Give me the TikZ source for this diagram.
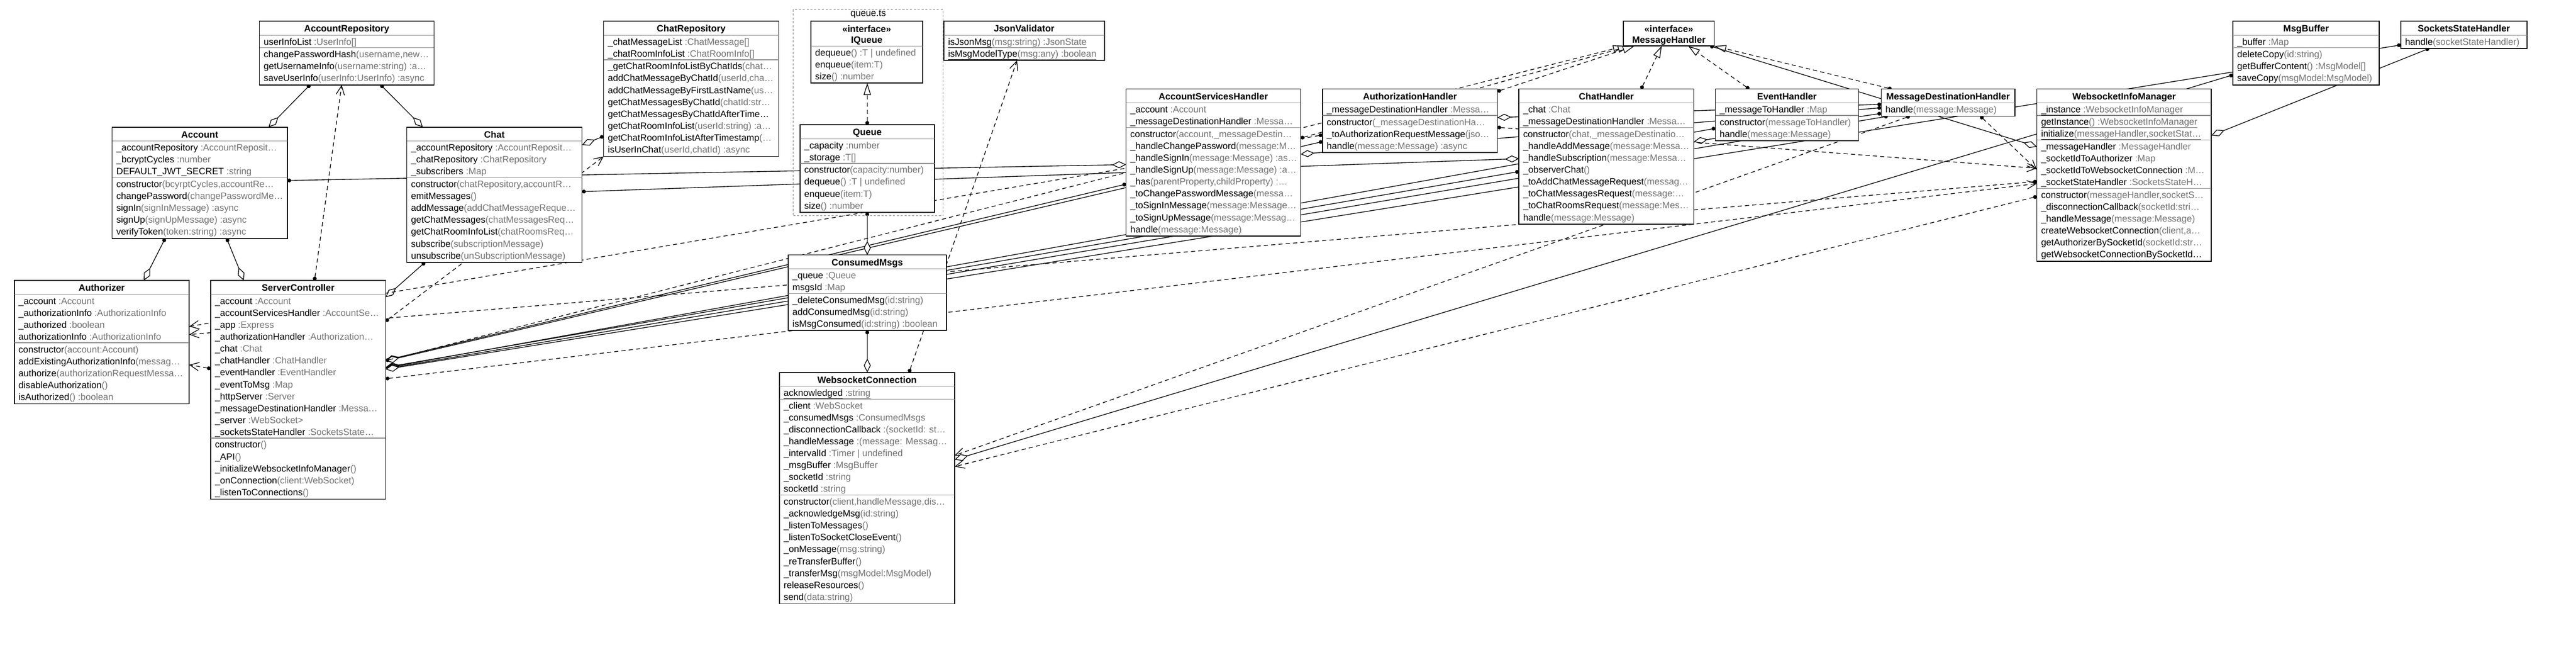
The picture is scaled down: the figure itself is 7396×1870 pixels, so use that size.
\documentclass[tikz,border=0pt]{standalone}
\usepackage{fontspec}
\setmainfont{Liberation Sans}
\usetikzlibrary{arrows.meta,calc}
\pgfdeclarelayer{bg}
\pgfsetlayers{bg,main}
\colorlet{tgray}{black!55}
\newcommand\tyc[1]{\textcolor{tgray}{#1}}
\newcommand\stc[1]{\underline{\vphantom{()}#1}}
\newcommand\classpart[4]{%
  \foreach \txt [count=\k] in {#4}
    {\node[memb] (#1-#2\k) at ($(#1.north west)+(12,#3+\k*34.2-6.2)$) {\txt};}}
\newcommand\partline[2]{\draw[partsep] ($(#1.north west)+(0,#2)$) -- ($(#1.north east)+(0,#2)$);}
\tikzset{
  cls/.style={draw, line width=2.4pt, fill=white, anchor=north west, inner sep=0pt, outer sep=0pt},
  ttl/.style={font=\bfseries\fontsize{26.5}{30}\selectfont, anchor=base, inner sep=0pt},
  memb/.style={font=\fontsize{26.5}{30}\selectfont, anchor=base west, inner sep=0pt},
  partsep/.style={draw=black!45, line width=2pt},
  pkg/.style={draw=black!50, line width=1.5pt, dash pattern=on 6pt off 5pt, anchor=north west, inner sep=0pt},
  conn/.style={line width=2pt},
  agg/.style={conn, {Circle[length=11pt]}-{Diamond[length=40pt,width=20pt,fill=white]}},
  dep/.style={conn, dash pattern=on 12pt off 9pt, {Circle[length=11pt]}-{Straight Barb[length=26pt,width=24pt]}},
  real/.style={conn, dash pattern=on 12pt off 9pt, {Circle[length=11pt]}-{Triangle[length=34pt,width=21pt,fill=white]}}
}
\begin{document}
\begin{tikzpicture}[x=1pt,y=-1pt]
\useasboundingbox (0,0) rectangle (7396,1870);

\node[cls, minimum width=501, minimum height=182.8] (arepo) at (745,61) {};
\node[ttl] (arepo-t) at ($(arepo.north)+(0,30.5)$) {AccountRepository};
\partline{arepo}{40} \partline{arepo}{76.2}
\classpart{arepo}{a}{40}{{userInfoList \tyc{:UserInfo[]}}}
\classpart{arepo}{m}{76.2}{{changePasswordHash\tyc{(username,new…}},{getUsernameInfo\tyc{(username:string) :a…}},{saveUserInfo\tyc{(userInfo:UserInfo) :async}}}

\node[cls, minimum width=503, minimum height=319.6] (acct) at (322,365) {};
\node[ttl] (acct-t) at ($(acct.north)+(0,30.5)$) {Account};
\partline{acct}{40} \partline{acct}{144.6}
\classpart{acct}{a}{40}{{\_accountRepository \tyc{:AccountReposit…}},{\_bcryptCycles \tyc{:number}},{DEFAULT\_JWT\_SECRET \tyc{:string}}}
\classpart{acct}{m}{144.6}{{constructor\tyc{(bcyrptCycles,accountRe…}},{changePassword\tyc{(changePasswordMe…}},{signIn\tyc{(signInMessage) :async}},{signUp\tyc{(signUpMessage) :async}},{verifyToken\tyc{(token:string) :async}}}

\node[cls, minimum width=503, minimum height=388] (chat) at (1168,365) {};
\node[ttl] (chat-t) at ($(chat.north)+(0,30.5)$) {Chat};
\partline{chat}{40} \partline{chat}{144.6}
\classpart{chat}{a}{40}{{\_accountRepository \tyc{:AccountReposit…}},{\_chatRepository \tyc{:ChatRepository}},{\_subscribers \tyc{:Map}}}
\classpart{chat}{m}{144.6}{{constructor\tyc{(chatRepository,accountR…}},{emitMessages\tyc{()}},{addMessage\tyc{(addChatMessageReque…}},{getChatMessages\tyc{(chatMessagesReq…}},{getChatRoomInfoList\tyc{(chatRoomsReq…}},{subscribe\tyc{(subscriptionMessage)}},{unsubscribe\tyc{(unSubscriptionMessage)}}}

\node[cls, minimum width=503, minimum height=388] (crepo) at (1733,61) {};
\node[ttl] (crepo-t) at ($(crepo.north)+(0,30.5)$) {ChatRepository};
\partline{crepo}{40} \partline{crepo}{110.4}
\classpart{crepo}{a}{40}{{\_chatMessageList \tyc{:ChatMessage[]}},{\_chatRoomInfoList \tyc{:ChatRoomInfo[]}}}
\classpart{crepo}{m}{110.4}{{\_getChatRoomInfoListByChatIds\tyc{(chat…}},{addChatMessageByChatId\tyc{(userId,cha…}},{addChatMessageByFirstLastName\tyc{(us…}},{getChatMessagesByChatId\tyc{(chatId:str…}},{getChatMessagesByChatIdAfterTime…},{getChatRoomInfoList\tyc{(userId:string) :a…}},{getChatRoomInfoListAfterTimestamp\tyc{(…}},{isUserInChat\tyc{(userId,chatId) :async}}}

\node[cls, minimum width=502, minimum height=353.8] (authz) at (41,805) {};
\node[ttl] (authz-t) at ($(authz.north)+(0,30.5)$) {Authorizer};
\partline{authz}{40} \partline{authz}{178.8}
\classpart{authz}{a}{40}{{\_account \tyc{:Account}},{\_authorizationInfo \tyc{:AuthorizationInfo}},{\_authorized \tyc{:boolean}},{authorizationInfo \tyc{:AuthorizationInfo}}}
\classpart{authz}{m}{178.8}{{constructor\tyc{(account:Account)}},{addExistingAuthorizationInfo\tyc{(messag…}},{authorize\tyc{(authorizationRequestMessa…}},{disableAuthorization\tyc{()}},{isAuthorized\tyc{() :boolean}}}

\node[cls, minimum width=502, minimum height=627.4] (srv) at (605,805) {};
\node[ttl] (srv-t) at ($(srv.north)+(0,30.5)$) {ServerController};
\partline{srv}{40} \partline{srv}{452.4}
\classpart{srv}{a}{40}{{\_account \tyc{:Account}},{\_accountServicesHandler \tyc{:AccountSe…}},{\_app \tyc{:Express}},{\_authorizationHandler \tyc{:Authorization…}},{\_chat \tyc{:Chat}},{\_chatHandler \tyc{:ChatHandler}},{\_eventHandler \tyc{:EventHandler}},{\_eventToMsg \tyc{:Map}},{\_httpServer \tyc{:Server}},{\_messageDestinationHandler \tyc{:Messa…}},{\_server \tyc{:WebSocket>}},{\_socketsStateHandler \tyc{:SocketsState…}}}
\classpart{srv}{m}{452.4}{{constructor\tyc{()}},{\_API\tyc{()}},{\_initializeWebsocketInfoManager\tyc{()}},{\_onConnection\tyc{(client:WebSocket)}},{\_listenToConnections\tyc{()}}}

\node[pkg, minimum width=430, minimum height=592] (qpkg) at (2277,27) {};
\node[memb, anchor=base] (qpkg-l) at ($(qpkg.north)+(0,20)$) {queue.ts};

\node[cls, minimum width=321, minimum height=177.6] (iqueue) at (2328,61) {};
\node[ttl] (iqueue-s) at ($(iqueue.north)+(0,31)$) {«interface»};
\node[ttl] (iqueue-t) at ($(iqueue.north)+(0,62)$) {IQueue};
\partline{iqueue}{71}
\classpart{iqueue}{m}{71}{{dequeue\tyc{() :T | undefined}},{enqueue\tyc{(item:T)}},{size\tyc{() :number}}}

\node[cls, minimum width=386, minimum height=251.2] (queue) at (2297,358.4) {};
\node[ttl] (queue-t) at ($(queue.north)+(0,30.5)$) {Queue};
\partline{queue}{40} \partline{queue}{110.4}
\classpart{queue}{a}{40}{{\_capacity \tyc{:number}},{\_storage \tyc{:T[]}}}
\classpart{queue}{m}{110.4}{{constructor\tyc{(capacity:number)}},{dequeue\tyc{() :T | undefined}},{enqueue\tyc{(item:T)}},{size\tyc{() :number}}}

\node[cls, minimum width=461, minimum height=112.4] (jsonv) at (2710,61) {};
\node[ttl] (jsonv-t) at ($(jsonv.north)+(0,30.5)$) {JsonValidator};
\partline{jsonv}{40}
\classpart{jsonv}{m}{40}{{\stc{isJsonMsg}\tyc{\stc{(msg:string) :JsonState}}},{\stc{isMsgModelType}\tyc{\stc{(msg:any) :boolean}}}}

\node[cls, minimum width=454, minimum height=217] (cmsgs) at (2263,731.6) {};
\node[ttl] (cmsgs-t) at ($(cmsgs.north)+(0,30.5)$) {ConsumedMsgs};
\partline{cmsgs}{40} \partline{cmsgs}{110.4}
\classpart{cmsgs}{a}{40}{{\_queue \tyc{:Queue}},{msgsId \tyc{:Map}}}
\classpart{cmsgs}{m}{110.4}{{\_deleteConsumedMsg\tyc{(id:string)}},{addConsumedMsg\tyc{(id:string)}},{isMsgConsumed\tyc{(id:string) :boolean}}}

\node[cls, minimum width=503, minimum height=663.6] (wsc) at (2238,1069) {};
\node[ttl] (wsc-t) at ($(wsc.north)+(0,30.5)$) {WebsocketConnection};
\partline{wsc}{40} \partline{wsc}{76.2} \partline{wsc}{351.8}
\classpart{wsc}{s}{40}{{\stc{acknowledged}\tyc{\stc{ :string}}}}
\classpart{wsc}{a}{76.2}{{\_client \tyc{:WebSocket}},{\_consumedMsgs \tyc{:ConsumedMsgs}},{\_disconnectionCallback \tyc{:(socketId: st…}},{\_handleMessage \tyc{:(message: Messag…}},{\_intervalId \tyc{:Timer | undefined}},{\_msgBuffer \tyc{:MsgBuffer}},{\_socketId \tyc{:string}},{socketId \tyc{:string}}}
\classpart{wsc}{m}{351.8}{{constructor\tyc{(client,handleMessage,dis…}},{\_acknowledgeMsg\tyc{(id:string)}},{\_listenToMessages\tyc{()}},{\_listenToSocketCloseEvent\tyc{()}},{\_onMessage\tyc{(msg:string)}},{\_reTransferBuffer\tyc{()}},{\_transferMsg\tyc{(msgModel:MsgModel)}},{releaseResources\tyc{()}},{send\tyc{(data:string)}}}

\node[cls, minimum width=501, minimum height=422.2] (ash) at (3233,255.4) {};
\node[ttl] (ash-t) at ($(ash.north)+(0,30.5)$) {AccountServicesHandler};
\partline{ash}{40} \partline{ash}{110.4}
\classpart{ash}{a}{40}{{\_account \tyc{:Account}},{\_messageDestinationHandler \tyc{:Messa…}}}
\classpart{ash}{m}{110.4}{{constructor\tyc{(account,\_messageDestin…}},{\_handleChangePassword\tyc{(message:M…}},{\_handleSignIn\tyc{(message:Message) :as…}},{\_handleSignUp\tyc{(message:Message) :a…}},{\_has\tyc{(parentProperty,childProperty) :…}},{\_toChangePasswordMessage\tyc{(messa…}},{\_toSignInMessage\tyc{(message:Message…}},{\_toSignUpMessage\tyc{(message:Messag…}},{handle\tyc{(message:Message)}}}

\node[cls, minimum width=502, minimum height=182.8] (authh) at (3797,255.4) {};
\node[ttl] (authh-t) at ($(authh.north)+(0,30.5)$) {AuthorizationHandler};
\partline{authh}{40} \partline{authh}{76.2}
\classpart{authh}{a}{40}{{\_messageDestinationHandler \tyc{:Messa…}}}
\classpart{authh}{m}{76.2}{{constructor\tyc{(\_messageDestinationHa…}},{\_toAuthorizationRequestMessage\tyc{(jso…}},{handle\tyc{(message:Message) :async}}}

\node[cls, minimum width=261, minimum height=71] (msgh) at (4661,61) {};
\node[ttl] (msgh-s) at ($(msgh.north)+(0,31)$) {«interface»};
\node[ttl] (msgh-t) at ($(msgh.north)+(0,62)$) {MessageHandler};

\node[cls, minimum width=502, minimum height=388] (chath) at (4361,255.4) {};
\node[ttl] (chath-t) at ($(chath.north)+(0,30.5)$) {ChatHandler};
\partline{chath}{40} \partline{chath}{110.4}
\classpart{chath}{a}{40}{{\_chat \tyc{:Chat}},{\_messageDestinationHandler \tyc{:Messa…}}}
\classpart{chath}{m}{110.4}{{constructor\tyc{(chat,\_messageDestinatio…}},{\_handleAddMessage\tyc{(message:Messa…}},{\_handleSubscription\tyc{(message:Messa…}},{\_observerChat\tyc{()}},{\_toAddChatMessageRequest\tyc{(messag…}},{\_toChatMessagesRequest\tyc{(message:…}},{\_toChatRoomsRequest\tyc{(message:Mes…}},{handle\tyc{(message:Message)}}}

\node[cls, minimum width=411, minimum height=148.6] (evh) at (4925,255.4) {};
\node[ttl] (evh-t) at ($(evh.north)+(0,30.5)$) {EventHandler};
\partline{evh}{40} \partline{evh}{76.2}
\classpart{evh}{a}{40}{{\_messageToHandler \tyc{:Map}}}
\classpart{evh}{m}{76.2}{{constructor\tyc{(messageToHandler)}},{handle\tyc{(message:Message)}}}

\node[cls, minimum width=384, minimum height=78.2] (mdh) at (5401,255.4) {};
\node[ttl] (mdh-t) at ($(mdh.north)+(0,30.5)$) {MessageDestinationHandler};
\partline{mdh}{40}
\classpart{mdh}{m}{40}{{handle\tyc{(message:Message)}}}

\node[cls, minimum width=501, minimum height=494.6] (wim) at (5848,255) {};
\node[ttl] (wim-t) at ($(wim.north)+(0,30.5)$) {WebsocketInfoManager};
\partline{wim}{40} \partline{wim}{76.2} \partline{wim}{146.6} \partline{wim}{285.4}
\classpart{wim}{s}{40}{{\stc{\_instance}\tyc{\stc{ :WebsocketInfoManager}}}}
\classpart{wim}{t}{76.2}{{\stc{getInstance}\tyc{\stc{() :WebsocketInfoManager}}},{\stc{initialize}\tyc{\stc{(messageHandler,socketStat…}}}}
\classpart{wim}{a}{146.6}{{\_messageHandler \tyc{:MessageHandler}},{\_socketIdToAuthorizer \tyc{:Map}},{\_socketIdToWebsocketConnection \tyc{:M…}},{\_socketStateHandler \tyc{:SocketsStateH…}}}
\classpart{wim}{m}{285.4}{{constructor\tyc{(messageHandler,socketS…}},{\_disconnectionCallback\tyc{(socketId:stri…}},{\_handleMessage\tyc{(message:Message)}},{createWebsocketConnection\tyc{(client,a…}},{getAuthorizerBySocketId\tyc{(socketId:str…}},{getWebsocketConnectionBySocketId…}}

\node[cls, minimum width=420, minimum height=182.8] (mbuf) at (6411,61) {};
\node[ttl] (mbuf-t) at ($(mbuf.north)+(0,30.5)$) {MsgBuffer};
\partline{mbuf}{40} \partline{mbuf}{76.2}
\classpart{mbuf}{a}{40}{{\_buffer \tyc{:Map}}}
\classpart{mbuf}{m}{76.2}{{deleteCopy\tyc{(id:string)}},{getBufferContent\tyc{() :MsgModel[]}},{saveCopy\tyc{(msgModel:MsgModel)}}}

\node[cls, minimum width=362, minimum height=78.2] (ssh) at (6893,61) {};
\node[ttl] (ssh-t) at ($(ssh.north)+(0,30.5)$) {SocketsStateHandler};
\partline{ssh}{40}
\classpart{ssh}{m}{40}{{handle\tyc{(socketStateHandler)}}}

\begin{pgfonlayer}{bg}
\draw[agg] ($(arepo.south west)+(145,0)$) -- ($(acct.north west)+(449,0)$);
\draw[agg] ($(arepo.south west)+(348,0)$) -- ($(chat.north west)+(46,0)$);
\draw[dep] ($(srv.north west)+(298,0)$) -- ($(arepo.south west)+(236,0)$);
\draw[agg] ($(acct.south west)+(152,0)$) -- ($(authz.north west)+(372,0)$);
\draw[agg] ($(acct.south west)+(329,0)$) -- ($(srv.north west)+(95,0)$);
\draw[agg] ($(acct.north east)+(0,153)$) -- ($(ash.north west)+(0,217)$);
\draw[agg] ($(chat.north east)+(0,185)$) -- ($(chath.north west)+(0,200)$);
\draw[agg] ($(crepo.north west)+(0,330)$) -- ($(chat.north east)+(0,51)$);
\draw[dep] ($(srv.north east)+(0,117)$) -- (crepo.south west);
\draw[agg] ($(chat.south west)+(52,0)$) -- ($(srv.north east)+(0,48)$);
\draw[dep] ($(srv.north west)+(0,253)$) -- ($(authz.north east)+(0,242)$);
\draw[dep] ($(authh.north west)+(0,132)$) -- ($(authz.north east)+(0,132)$);
\draw[dep] ($(wim.north west)+(0,266)$) -- ($(authz.north east)+(0,155)$);
\draw[agg] ($(ash.north west)+(0,273)$) -- ($(srv.north east)+(0,229)$);
\draw[agg] ($(authh.north west)+(0,151)$) -- ($(srv.north east)+(0,231)$);
\draw[agg] ($(chath.north west)+(0,237)$) -- ($(srv.north east)+(0,249)$);
\draw[agg] ($(evh.north west)+(0,113)$) -- ($(srv.north east)+(0,251)$);
\draw[agg] ($(mdh.south west)+(19,0)$) -- ($(srv.north east)+(0,253)$);
\draw[agg] ($(ssh.north west)+(0,68)$) -- ($(srv.north east)+(0,255)$);
\draw[dep] ($(srv.north east)+(0,282)$) -- ($(wim.north west)+(0,272)$);
\draw[real] ($(srv.north east)+(0,230)$) -- ($(msgh.south west)+(4,0)$);
\draw[real] ($(ash.north east)+(0,141)$) -- ($(msgh.south west)+(18,0)$);
\draw[real] ($(authh.north east)+(0,7)$) -- ($(msgh.south west)+(32,0)$);
\draw[real] ($(chath.north west)+(351,0)$) -- ($(msgh.south west)+(110,0)$);
\draw[real] ($(evh.north west)+(97,0)$) -- ($(msgh.south west)+(186,0)$);
\draw[real] ($(mdh.north west)+(30,0)$) -- (msgh.south east);
\draw[agg] ($(msgh.south west)+(249,0)$) -- ($(wim.north west)+(0,166)$);
\draw[agg] ($(mdh.north west)+(0,44)$) -- ($(authh.north east)+(0,82)$);
\draw[agg] ($(mdh.north west)+(0,54)$) -- ($(ash.north east)+(0,187)$);
\draw[agg] ($(mdh.north west)+(0,70)$) -- ($(chath.north east)+(0,151)$);
\draw[dep] ($(authh.north east)+(0,110)$) -- ($(wim.north west)+(0,228)$);
\draw[dep] ($(mdh.south west)+(285,0)$) -- ($(wim.north west)+(0,232)$);
\draw[dep] ($(mdh.south west)+(82,0)$) -- ($(wsc.north east)+(0,238)$);
\draw[agg] ($(mbuf.north west)+(0,154)$) -- ($(wsc.north east)+(0,250)$);
\draw[dep] ($(wim.north west)+(0,309)$) -- ($(wsc.north east)+(0,270)$);
\draw[dep] ($(wsc.north west)+(372,0)$) -- ($(jsonv.south west)+(210,0)$);
\draw[agg] ($(cmsgs.south west)+(227,0)$) -- ($(wsc.north west)+(252,0)$);
\draw[agg] ($(queue.south west)+(193,0)$) -- ($(cmsgs.north west)+(227,0)$);
\draw[real] ($(queue.north west)+(193,0)$) -- ($(iqueue.south west)+(162,0)$);
\draw[agg] ($(ssh.south west)+(81,0)$) -- ($(wim.north east)+(0,134)$);
\end{pgfonlayer}
\end{tikzpicture}
\end{document}
